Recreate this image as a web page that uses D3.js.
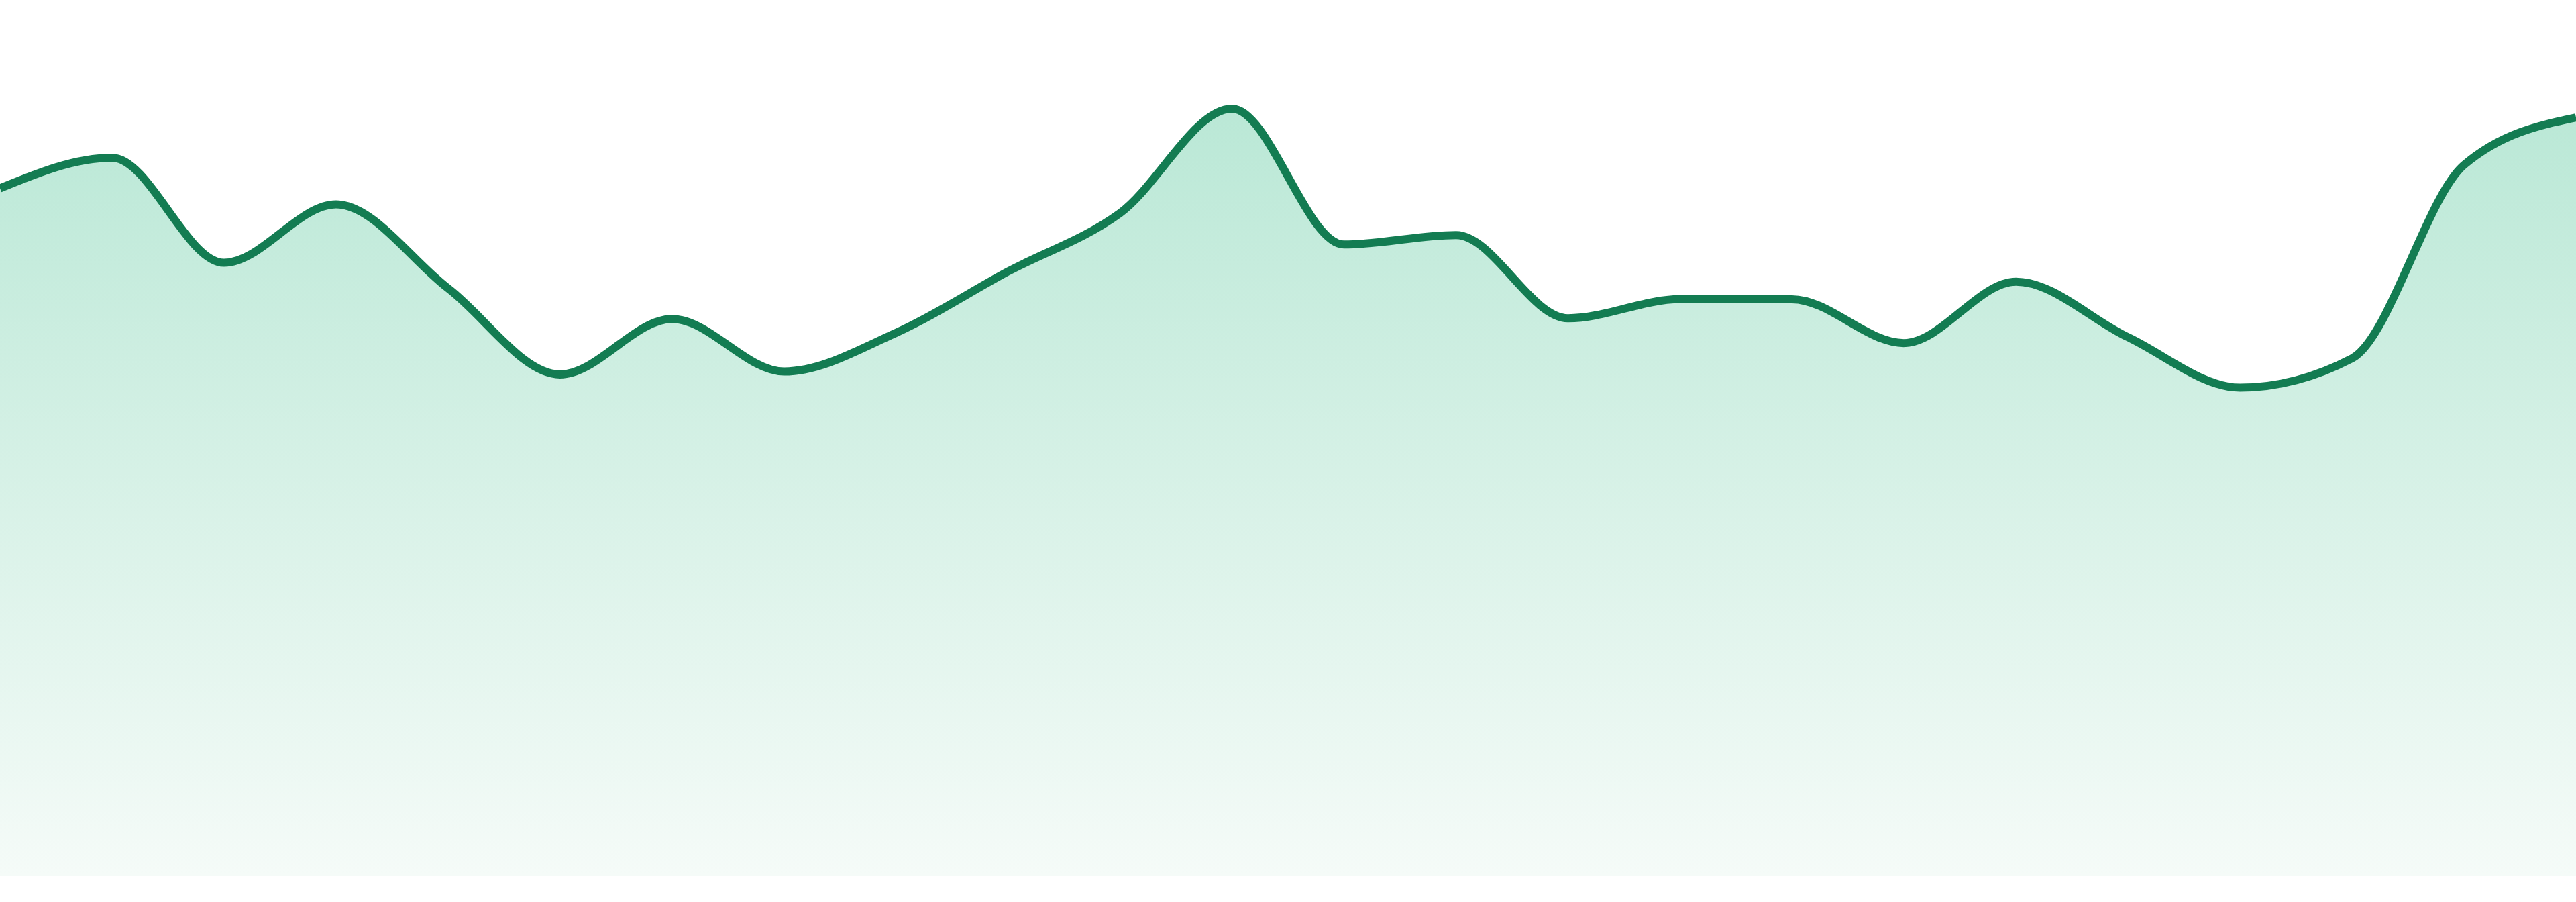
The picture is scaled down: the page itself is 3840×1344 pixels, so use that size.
<!DOCTYPE html>
<html>
<head>
<meta charset="utf-8">
<script src="https://cdn.jsdelivr.net/npm/d3@7"></script>
<style>
  html, body { margin: 0; padding: 0; background: #fff; }
  svg { display: block; }
</style>
</head>
<body>
<script>
// one value per step
var steps = d3.range(24);
var values = [94.2, 98.4, 84.0, 92.0, 80.5, 68.7, 76.3, 69.1, 74.4, 82.8, 90.8, 105.1,
              86.5, 87.8, 76.4, 79.0, 79.0, 73.0, 81.4, 73.8, 66.9, 70.9, 97.4, 103.9];

var width = 3840, height = 1344;
var baseline = 1305;

var data = steps.map(function(s, i){
    return { X: s, Y: values[i] };
});

var x_scale = d3.scaleLinear()
                .domain([0, steps.length - 1])
                .range([0, width]);

var y_scale = d3.scaleLinear()
                .domain([0, 120])
                .range([baseline, 0]);

var svg = d3.select("body").append("svg")
            .attr("width", width)
            .attr("height", height)
            .style("background", "white");

var grad = svg.append("defs").append("linearGradient")
              .attr("id", "fillGrad")
              .attr("x1", 0).attr("y1", 0)
              .attr("x2", 0).attr("y2", 1);
grad.append("stop").attr("offset", "0%").attr("stop-color", "#bae8d6");
grad.append("stop").attr("offset", "100%").attr("stop-color", "#f5fbf8");

var area = d3.area()
             .curve(d3.curveMonotoneX)
             .x(function(d){ return x_scale(d.X); })
             .y0(y_scale(0))
             .y1(function(d){ return y_scale(d.Y); });

var line = d3.line()
             .curve(d3.curveMonotoneX)
             .x(function(d){ return x_scale(d.X); })
             .y(function(d){ return y_scale(d.Y); });

svg.append("path")
   .datum(data)
   .attr("d", area)
   .attr("fill", "url(#fillGrad)");

svg.append("path")
   .datum(data)
   .attr("d", line)
   .attr("fill", "none")
   .attr("stroke", "#137c52")
   .attr("stroke-width", 12)
   .attr("stroke-linejoin", "round");
</script>
</body>
</html>
